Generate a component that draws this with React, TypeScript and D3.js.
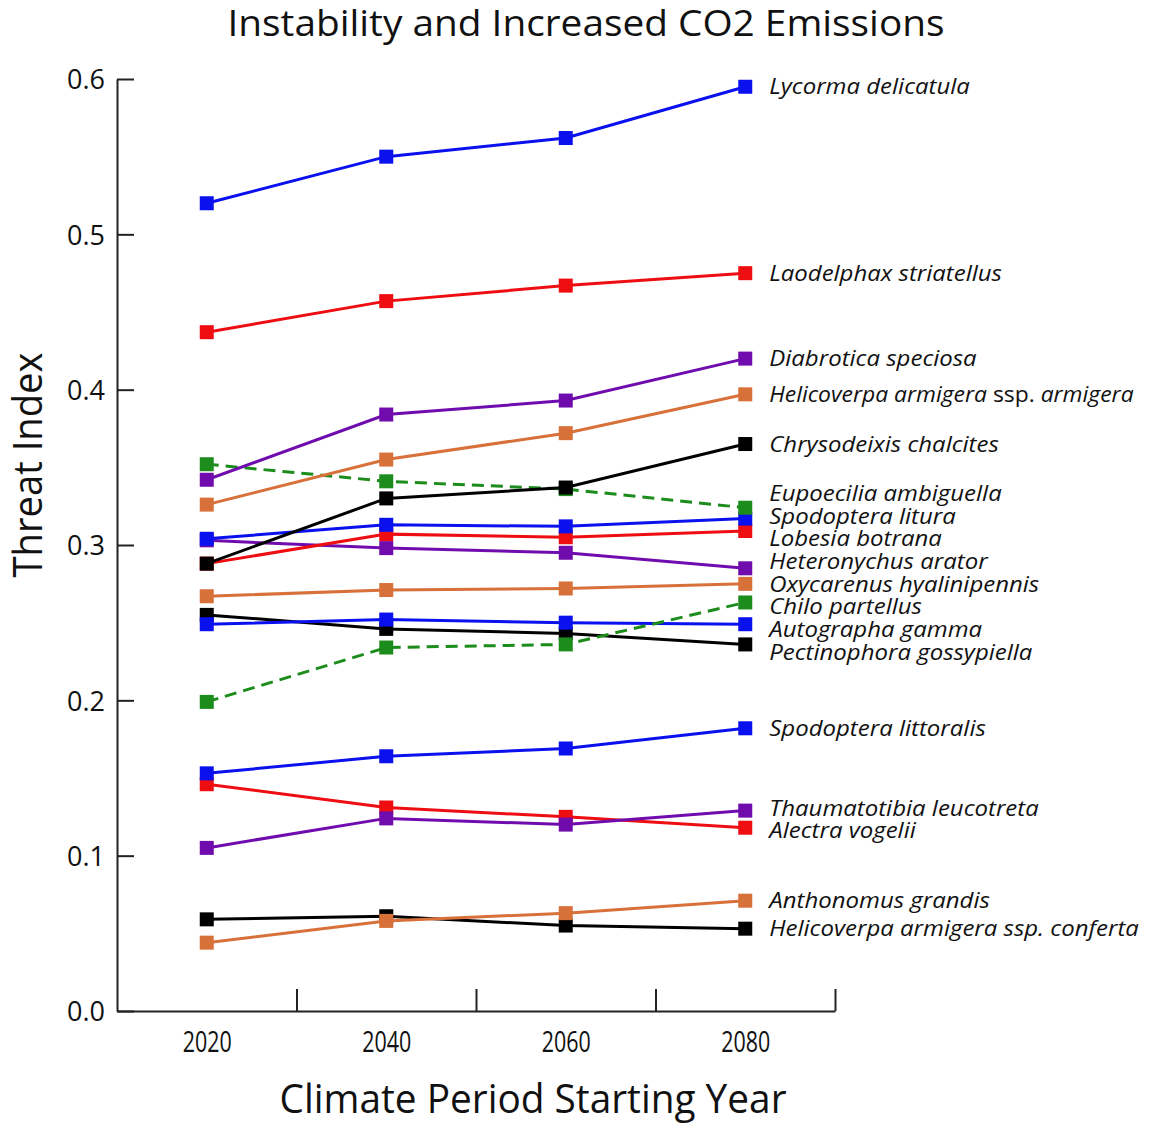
import React, { useEffect, useRef } from "react";
import * as d3 from "d3";

// climate period start years
const years = [2020, 2040, 2060, 2080];

const species = [
  "Lycorma delicatula",
  "Laodelphax striatellus",
  "Diabrotica speciosa",
  "Helicoverpa armigera ssp. armigera",
  "Chrysodeixis chalcites",
  "Eupoecilia ambiguella",
  "Spodoptera litura",
  "Lobesia botrana",
  "Heteronychus arator",
  "Oxycarenus hyalinipennis",
  "Chilo partellus",
  "Autographa gamma",
  "Pectinophora gossypiella",
  "Spodoptera littoralis",
  "Thaumatotibia leucotreta",
  "Alectra vogelii",
  "Anthonomus grandis",
  "Helicoverpa armigera ssp. conferta",
];

// threat index per species, one value per climate period
const threat = [
  [0.520, 0.550, 0.562, 0.595],
  [0.437, 0.457, 0.467, 0.475],
  [0.342, 0.384, 0.393, 0.420],
  [0.326, 0.355, 0.372, 0.397],
  [0.288, 0.330, 0.337, 0.365],
  [0.352, 0.341, 0.336, 0.324],
  [0.304, 0.313, 0.312, 0.317],
  [0.288, 0.307, 0.305, 0.309],
  [0.303, 0.298, 0.295, 0.285],
  [0.267, 0.271, 0.272, 0.275],
  [0.199, 0.234, 0.236, 0.263],
  [0.249, 0.252, 0.250, 0.249],
  [0.255, 0.246, 0.243, 0.236],
  [0.153, 0.164, 0.169, 0.182],
  [0.105, 0.124, 0.120, 0.129],
  [0.146, 0.131, 0.125, 0.118],
  [0.044, 0.058, 0.063, 0.071],
  [0.059, 0.061, 0.055, 0.053],
];

const yTicks = [0, 0.1, 0.2, 0.3, 0.4, 0.5, 0.6];
const xMinorTicks = [2030, 2050, 2070, 2090];

const BLUE = "#0a10ee";
const RED = "#ee0d10";
const PURPLE = "#700cae";
const ORANGE = "#d8703a";
const GREEN = "#1c8c1c";
const BLACK = "#000000";

const colors = [
  BLUE, RED, PURPLE, ORANGE, BLACK, GREEN, BLUE, RED, PURPLE,
  ORANGE, GREEN, BLUE, BLACK, BLUE, PURPLE, RED, ORANGE, BLACK,
];
const dashed = species.map(s => s === "Eupoecilia ambiguella" || s === "Chilo partellus");

const FONT = "'Open Sans', 'DejaVu Sans', sans-serif";

// spread labels vertically so they don't overlap
function dodge(targets: number[], gap: number): number[] {
  const order = targets.map((_, i) => i).sort((a, b) => targets[a] - targets[b]);
  let groups = order.map(i => ({ members: [i], center: targets[i] }));
  let merged = true;
  while (merged) {
    merged = false;
    for (let k = 0; k < groups.length - 1; k++) {
      const a = groups[k], b = groups[k + 1];
      const aEnd = a.center + (a.members.length - 1) * gap / 2;
      const bStart = b.center - (b.members.length - 1) * gap / 2;
      if (bStart - aEnd < gap) {
        const members = a.members.concat(b.members);
        groups.splice(k, 2, { members, center: d3.mean(members, m => targets[m])! });
        merged = true;
        break;
      }
    }
  }
  const out = new Array(targets.length);
  groups.forEach(g => {
    g.members.forEach((m, j) => {
      out[m] = g.center + (j - (g.members.length - 1) / 2) * gap;
    });
  });
  return out;
}

const App: React.FC = () => {
  const svgRef = useRef<SVGSVGElement | null>(null);

  useEffect(() => {
    const width = 1150, height = 1125;
    const svg = d3.select(svgRef.current).attr("width", width).attr("height", height);
    svg.selectAll("*").remove();

    const x = d3.scaleLinear().domain([2010, 2090]).range([117, 835]);
    const y = d3.scaleLinear().domain([0, 0.6]).range([1011, 79]);

    // title
    svg.append("text")
      .attr("x", 586).attr("y", 36)
      .attr("text-anchor", "middle")
      .attr("font-family", FONT).attr("font-size", 36)
      .attr("textLength", 717).attr("lengthAdjust", "spacingAndGlyphs")
      .attr("fill", "#111")
      .text("Instability and Increased CO2 Emissions");

    // y axis
    const yAxis = svg.append("g")
      .attr("transform", "translate(117,0)")
      .call(d3.axisLeft(y).tickValues(yTicks).tickSizeInner(-17).tickSizeOuter(0).tickPadding(12).tickFormat(d3.format(".1f")));
    yAxis.select(".domain").attr("stroke", "#222").attr("stroke-width", 2);
    yAxis.selectAll(".tick line").attr("stroke", "#222").attr("stroke-width", 2);
    yAxis.selectAll(".tick text")
      .attr("font-family", FONT).attr("font-size", 27).attr("fill", "#111").attr("dy", "0.36em");

    // x axis: tick marks between periods
    const xAxis = svg.append("g")
      .attr("transform", "translate(0,1011)")
      .call(d3.axisBottom(x).tickValues(xMinorTicks).tickSizeInner(-22).tickSizeOuter(0).tickFormat(() => ""));
    xAxis.select(".domain").attr("stroke", "#222").attr("stroke-width", 2);
    xAxis.selectAll(".tick line").attr("stroke", "#222").attr("stroke-width", 2);

    // x axis labels at period years
    const xLabels = svg.append("g")
      .attr("transform", "translate(0,1011)")
      .call(d3.axisBottom(x).tickValues(years).tickSize(0).tickPadding(0).tickFormat(d3.format("d")));
    xLabels.select(".domain").remove();
    xLabels.selectAll(".tick text")
      .attr("font-family", FONT).attr("font-size", 29).attr("fill", "#111")
      .attr("y", 41).attr("dy", 0)
      .attr("transform", "scale(0.74,1)");

    // axis titles
    svg.append("text")
      .attr("x", 533).attr("y", 1113)
      .attr("text-anchor", "middle")
      .attr("font-family", FONT).attr("font-size", 40)
      .attr("textLength", 507).attr("lengthAdjust", "spacingAndGlyphs")
      .attr("fill", "#111")
      .text("Climate Period Starting Year");

    svg.append("text")
      .attr("transform", "translate(42,465) rotate(-90)")
      .attr("text-anchor", "middle")
      .attr("font-family", FONT).attr("font-size", 40)
      .attr("textLength", 225).attr("lengthAdjust", "spacingAndGlyphs")
      .attr("fill", "#111")
      .text("Threat Index");

    const line = d3.line<number>()
      .x((_, i) => x(years[i]))
      .y(d => y(d));

    const series = svg.append("g");
    const order = d3.range(species.length).reverse();
    order.forEach(i => {
      const g = series.append("g");
      g.append("path")
        .datum(threat[i])
        .attr("fill", "none")
        .attr("stroke", colors[i])
        .attr("stroke-width", 3)
        .attr("stroke-dasharray", dashed[i] ? "12,7" : null)
        .attr("d", line);
      g.selectAll("rect")
        .data(threat[i])
        .join("rect")
        .attr("x", (_, j) => x(years[j]) - 7)
        .attr("y", d => y(d) - 7)
        .attr("width", 14)
        .attr("height", 14)
        .attr("fill", colors[i]);
    });

    // species labels at the right end
    const lastY = threat.map(v => y(v[v.length - 1]));
    const labelY = dodge(lastY, 22.7);
    const labels = svg.append("g")
      .selectAll("text")
      .data(species)
      .join("text")
      .attr("transform", (_, i) => `translate(${x(2080) + 24},${labelY[i]}) scale(${i === 3 ? 1.04 : 1.09},1)`)
      .attr("dy", "0.35em")
      .attr("font-family", FONT).attr("font-size", 22).attr("font-style", "italic")
      .attr("fill", "#111");

    // "ssp." is set upright in the armigera label
    labels.each(function (d, i) {
      const t = d3.select(this);
      if (i === 3) {
        const [genus, ssp] = d.split(" ssp. ");
        t.append("tspan").text(genus + " ");
        t.append("tspan").attr("font-style", "normal").text("ssp. ");
        t.append("tspan").text(ssp);
      } else {
        t.text(d);
      }
    });
  }, []);

  return <svg ref={svgRef} style={{ position: "absolute", left: 0, top: 0 }}></svg>;
};

export default App;
